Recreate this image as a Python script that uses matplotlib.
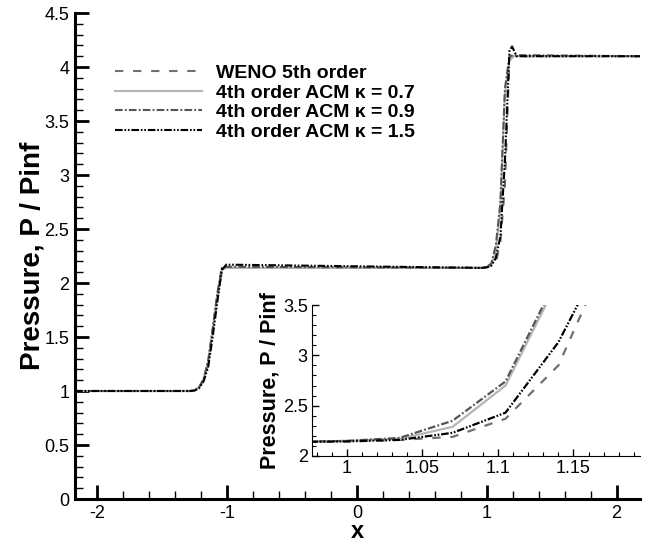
import matplotlib
matplotlib.use("Agg")
import matplotlib.pyplot as plt
from matplotlib.ticker import MultipleLocator, FormatStrFormatter

plt.rcParams['font.family'] = ['Liberation Sans', 'DejaVu Sans']
plt.rcParams['axes.unicode_minus'] = False
plt.rcParams['lines.scale_dashes'] = False

# ---- data ----
x_weno = [-2.17, -1.32, -1.285, -1.25, -1.215, -1.18, -1.145, -1.11, -1.075, -1.04, -1.005, 0.965, 1.0, 1.035, 1.07, 1.105, 1.14, 1.175, 1.21, 2.18]
y_weno = [1.0, 1.0, 1.0, 1.005, 1.03, 1.10, 1.25, 1.55, 1.85, 2.10, 2.14, 2.14, 2.145, 2.16, 2.19, 2.37, 2.90, 4.08, 4.10, 4.10]

x_k07 = [-2.17, -1.32, -1.285, -1.25, -1.215, -1.18, -1.145, -1.11, -1.075, -1.04, -1.005, 0.965, 1.0, 1.035, 1.07, 1.105, 1.14, 1.175, 1.21, 2.18]
y_k07 = [1.0, 1.0, 1.0, 1.006, 1.035, 1.11, 1.27, 1.57, 1.88, 2.12, 2.14, 2.14, 2.15, 2.17, 2.29, 2.70, 3.75, 4.06, 4.10, 4.10]

x_k09 = [-2.17, -1.32, -1.285, -1.25, -1.215, -1.18, -1.145, -1.11, -1.075, -1.04, -1.005, 0.965, 1.0, 1.035, 1.07, 1.105, 1.14, 1.175, 1.21, 2.18]
y_k09 = [1.0, 1.0, 1.0, 1.006, 1.035, 1.11, 1.28, 1.58, 1.90, 2.14, 2.15, 2.14, 2.15, 2.18, 2.35, 2.74, 3.80, 4.10, 4.11, 4.10]

x_k15 = [-2.17, -1.32, -1.285, -1.25, -1.215, -1.18, -1.145, -1.11, -1.075, -1.04, -1.005, 0.965, 1.0, 1.035, 1.07, 1.105, 1.14, 1.175, 1.195, 1.23, 2.18]
y_k15 = [1.0, 1.0, 1.0, 1.004, 1.025, 1.09, 1.22, 1.50, 1.82, 2.12, 2.17, 2.14, 2.145, 2.16, 2.23, 2.43, 3.13, 4.15, 4.19, 4.10, 4.10]

labels = ['WENO 5th order', '4th order ACM \u03ba = 0.7',
          '4th order ACM \u03ba = 0.9', '4th order ACM \u03ba = 1.5']

series = [(x_weno, y_weno), (x_k07, y_k07), (x_k09, y_k09), (x_k15, y_k15)]
styles = [
    dict(color='#707070', linestyle=(0, (6, 7))),
    dict(color='#b4b4b4', linestyle='-'),
    dict(color='#555555', linestyle=(0, (5.5, 1.6, 1.3, 1.6))),
    dict(color='#000000', linestyle=(0, (5.5, 1.3, 1.2, 1.3, 1.2, 1.3))),
]

W, H = 649, 544
fig = plt.figure(figsize=(W / 100, H / 100), dpi=100)

def rect(l, r, b, t):
    return [l / W, (H - b) / H, (r - l) / W, (b - t) / H]

ax = fig.add_axes(rect(75, 640, 499, 13))
for (xs, ys), st, lab in zip(series, styles, labels):
    ax.plot(xs, ys, lw=1.5, label=lab, **st)

ax.set_xlim(-2.17, 2.18)
ax.set_ylim(0, 4.5)
for s in ['top', 'right']:
    ax.spines[s].set_visible(False)
for s in ['left', 'bottom']:
    ax.spines[s].set_linewidth(2.2)
ax.xaxis.set_major_locator(MultipleLocator(1))
ax.xaxis.set_minor_locator(MultipleLocator(0.2))
ax.yaxis.set_major_locator(MultipleLocator(0.5))
ax.yaxis.set_minor_locator(MultipleLocator(0.1))
ax.yaxis.set_major_formatter(FormatStrFormatter('%g'))
ax.xaxis.set_major_formatter(FormatStrFormatter('%g'))
ax.tick_params(which='major', direction='in', length=10, width=2, labelsize=13, pad=4)
ax.tick_params(which='minor', direction='in', length=6, width=1)
ax.set_xlabel('x', fontsize=17, fontweight='bold', labelpad=-1)
ax.set_ylabel('Pressure, P / Pinf', fontsize=20, fontweight='bold', labelpad=-1)

leg = ax.legend(loc='upper left', bbox_to_anchor=(0.057, 0.91), frameon=False,
                prop=dict(size=14, weight='bold'), handlelength=4.5,
                handletextpad=0.67, labelspacing=0.1, borderaxespad=0)

ins = fig.add_axes(rect(312, 640, 456, 305))
for (xs, ys), st in zip(series, styles):
    ins.plot(xs, ys, lw=1.6, **st)
ins.set_xlim(0.977, 1.194)
ins.set_ylim(2, 3.5)
for s in ['top', 'right']:
    ins.spines[s].set_visible(False)
ins.xaxis.set_major_locator(MultipleLocator(0.05))
ins.xaxis.set_minor_locator(MultipleLocator(0.01))
ins.yaxis.set_major_locator(MultipleLocator(0.5))
ins.yaxis.set_minor_locator(MultipleLocator(0.1))
ins.xaxis.set_major_formatter(FormatStrFormatter('%g'))
ins.yaxis.set_major_formatter(FormatStrFormatter('%g'))
ins.tick_params(which='major', direction='in', length=5, width=1, labelsize=13, pad=3)
ins.tick_params(which='minor', direction='in', length=3, width=0.8)
ins.set_ylabel('Pressure, P / Pinf', fontsize=15.5, fontweight='bold', labelpad=2)

fig.savefig('out.png', dpi=100)
